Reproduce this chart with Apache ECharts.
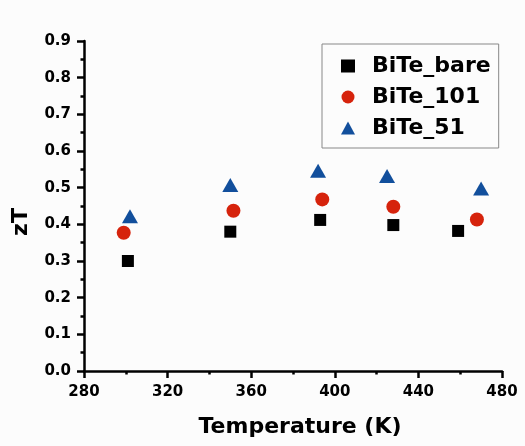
<!DOCTYPE html>
<html>
<head>
<meta charset="utf-8">
<script src="https://cdn.jsdelivr.net/npm/echarts@6/dist/echarts.min.js"></script>
<style>
  html, body { margin: 0; padding: 0; background: #fcfcfc; }
  #main { width: 525px; height: 446px; }
</style>
</head>
<body>
<div id="main"></div>
<script>
// temperature (K) and zT
var bareT = [301, 350, 393, 428, 459];
var bareZT = [0.300, 0.380, 0.412, 0.398, 0.382];
var t101T = [299, 351.5, 394, 428, 468];
var t101ZT = [0.377, 0.437, 0.468, 0.448, 0.413];
var t51T = [302, 350, 392, 425, 470];
var t51ZT = [0.422, 0.507, 0.546, 0.532, 0.498];

function pairs(xs, ys) {
  return xs.map(function (x, i) { return [x, ys[i]]; });
}

var font = "DejaVu Sans";

var myChart = echarts.init(document.getElementById("main"));
var option = {
  backgroundColor: "#fcfcfc",
  animation: false,
  grid: { left: 84, right: 23, top: 41, bottom: 75 },
  legend: {
    orient: "vertical",
    left: 322,
    top: 44,
    padding: [11, 8, 9, 19],
    itemGap: 9,
    itemWidth: 14,
    itemHeight: 13,
    borderColor: "#888",
    borderWidth: 1,
    textStyle: {
      fontFamily: font,
      fontWeight: "bold",
      fontSize: 22,
      lineHeight: 21,
      color: "#000",
      padding: [0, 0, 0, 12]
    },
    data: ["BiTe_bare", "BiTe_101", "BiTe_51"]
  },
  xAxis: {
    type: "value",
    min: 280,
    max: 480,
    interval: 40,
    name: "Temperature (K)",
    nameLocation: "middle",
    nameGap: 45,
    nameTextStyle: {
      fontFamily: font,
      fontWeight: "bold",
      fontSize: 22,
      color: "#000",
      padding: [0, 0, 0, 14]
    },
    axisLine: { lineStyle: { color: "#000", width: 2.5 } },
    axisTick: { length: 7, lineStyle: { width: 2.5 } },
    minorTick: { show: true, splitNumber: 2, length: 3.5, lineStyle: { color: "#000", width: 2.5 } },
    axisLabel: {
      margin: 14,
      fontFamily: font,
      fontWeight: "bold",
      fontSize: 15,
      color: "#000"
    },
    splitLine: { show: false }
  },
  yAxis: {
    type: "value",
    min: 0,
    max: 0.9,
    interval: 0.1,
    name: "zT",
    nameLocation: "middle",
    nameRotate: 90,
    nameGap: 52,
    nameTextStyle: {
      fontFamily: font,
      fontWeight: "bold",
      fontSize: 22,
      color: "#000",
      padding: [0, 32, 0, 0]
    },
    axisLine: { show: true, lineStyle: { color: "#000", width: 2.5 } },
    axisTick: { show: true, length: 7, lineStyle: { width: 2.5 } },
    minorTick: { show: true, splitNumber: 2, length: 3.5, lineStyle: { color: "#000", width: 2.5 } },
    axisLabel: {
      margin: 13,
      fontFamily: font,
      fontWeight: "bold",
      fontSize: 15,
      color: "#000",
      formatter: function (v) { return v.toFixed(1); }
    },
    splitLine: { show: false }
  },
  series: [
    {
      name: "BiTe_bare",
      type: "scatter",
      symbol: "rect",
      symbolSize: 12,
      itemStyle: { color: "#000", opacity: 1 },
      data: pairs(bareT, bareZT)
    },
    {
      name: "BiTe_101",
      type: "scatter",
      symbol: "circle",
      symbolSize: 14,
      itemStyle: { color: "#d6230c", opacity: 1 },
      data: pairs(t101T, t101ZT)
    },
    {
      name: "BiTe_51",
      type: "scatter",
      symbol: "triangle",
      symbolSize: [16, 14],
      itemStyle: { color: "#124f9c", opacity: 1 },
      data: pairs(t51T, t51ZT)
    }
  ]
};
myChart.setOption(option);
</script>
</body>
</html>
